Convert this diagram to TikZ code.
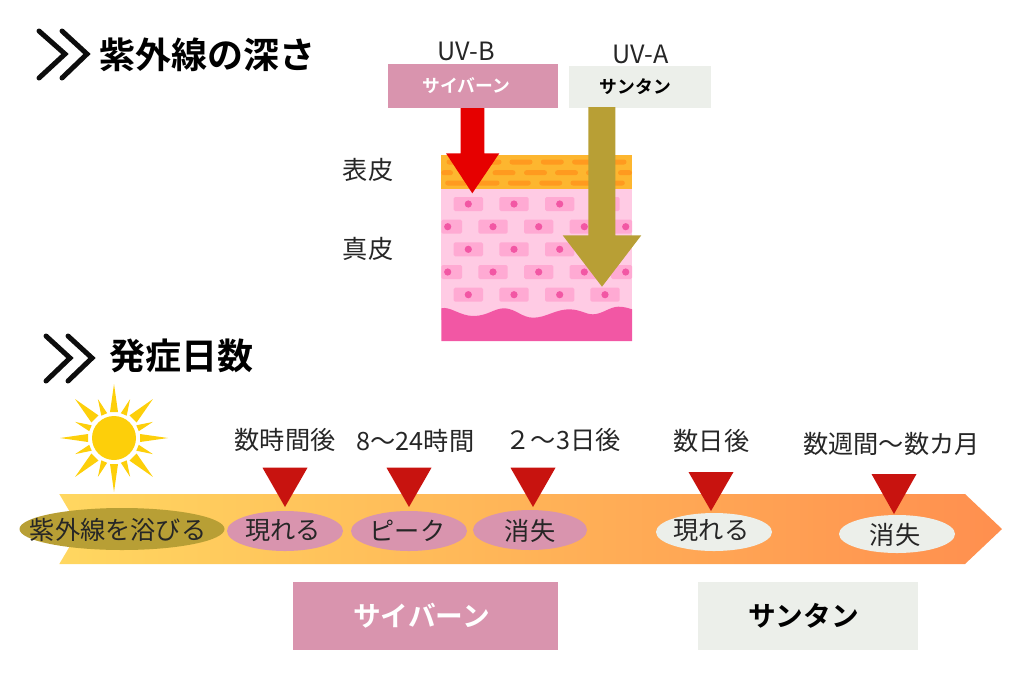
\documentclass[tikz,border=0pt]{standalone}
\usepackage{fontspec}
\setmainfont{Noto Sans CJK JP}[BoldFont={Noto Sans CJK JP Bold}]
\usetikzlibrary{shapes.geometric}
\definecolor{cPink}{HTML}{D994AE}
\definecolor{cPale}{HTML}{ECEFEA}
\definecolor{cOlive}{HTML}{B89F35}
\definecolor{cRed}{HTML}{E60000}
\definecolor{cMark}{HTML}{C8130F}
\definecolor{cSun}{HTML}{FDCF0A}
\definecolor{cOrange}{HTML}{FDB62F}
\definecolor{cDash}{HTML}{FF9A1F}
\definecolor{cSkin}{HTML}{FFCBE4}
\definecolor{cCell}{HTML}{FFAAD3}
\definecolor{cDeep}{HTML}{F257A4}
\definecolor{cBarL}{HTML}{FFD760}
\definecolor{cBarR}{HTML}{FF8F4F}
\newcommand{\fsz}[1]{\fontsize{#1}{#1}\selectfont}
\tikzset{
  x=1pt,y=-1pt,
  heading/.style={font=\fsz{36}\bfseries,inner sep=0,anchor=west},
  label/.style={font=\fsz{25.2},inner sep=0,text=black!85},
  chev/.style={line width=5pt,line cap=round,line join=miter,draw=black!95},
  oval/.style={ellipse,inner sep=0},
  smallbox/.style={inner sep=0,font=\fsz{17.8}\bfseries},
  bigbox/.style={inner sep=0,font=\fsz{27.7}\bfseries},
  cell/.style={fill=cCell,rounded corners=1.5pt},
  dashbar/.style={fill=cDash,rounded corners=2.5pt},
}
\newcommand{\tri}[3]{\fill[cMark] (#1-22.5,#2) -- (#1+22.5,#2) -- (#1,#3) -- cycle;}
\begin{document}
\begin{tikzpicture}
\useasboundingbox (0,0) rectangle (1024,683);
% headings
\draw[chev] (39,31) -- (65,54) -- (39,78);
\draw[chev] (62,31) -- (87,54) -- (62,78);
\node[heading] (h1) at (99,55) {紫外線の深さ};
\draw[chev] (46,336) -- (70,358) -- (46,381);
\draw[chev] (68,336) -- (92,358) -- (68,381);
\node[heading] (h2) at (109,356) {発症日数};
% skin
\fill[cOrange] (441.3,154.7) rectangle (632,189.3);
\foreach \c in {458,490,521,552.3,583.6,615}
  \fill[dashbar] (\c-11.5,159.5) rectangle (\c+11.5,164.5);
\foreach \a/\b in {441.3/453,492.5/515.5,524/547,555/578,586/609,618/632}
  \fill[dashbar] (\a,170.2) rectangle (\b,175.2);
\foreach \c in {456.7,488,519.3,550.7,582,613.3}
  \fill[dashbar] (\c-11.5,180.5) rectangle (\c+11.5,185.5);
\fill[cSkin] (441.3,189.3) rectangle (632,320);
\foreach \y in {204,249.3,294.7}
  \foreach \c in {468.3,514,559.7,605}{
    \fill[cell] (\c-14.7,\y-7) rectangle (\c+14.7,\y+7);
    \fill[cDeep] (\c,\y) circle (3.6);
  }
\foreach \y in {226.7,272}{
  \foreach \c in {493,538.7,584.3}{
    \fill[cell] (\c-14.7,\y-7) rectangle (\c+14.7,\y+7);
    \fill[cDeep] (\c,\y) circle (3.6);
  }
  \fill[cell] (441.3,\y-7) rectangle (462,\y+7);
  \fill[cDeep] (447.7,\y) circle (3.6);
  \fill[cell] (611,\y-7) rectangle (632,\y+7);
  \fill[cDeep] (625.7,\y) circle (3.6);
}
\fill[cDeep] (441.3,341) -- (441.3,308.3)
  .. controls (450,306) and (460,316) .. (473.3,316)
  .. controls (488,316) and (494,308) .. (505,308.3)
  .. controls (516,309) and (522,317.7) .. (533.3,317.7)
  .. controls (546,317.7) and (556,309) .. (570,309.3)
  .. controls (582,310) and (585,314.3) .. (593,314.3)
  .. controls (602,314.3) and (610,306.7) .. (618.3,306.7)
  .. controls (624,306.7) and (628,308) .. (632,309.3)
  -- (632,341) -- cycle;
% boxes
\node[smallbox,fill=cPink,text=white,minimum width=170pt,minimum height=44pt] (uvb) at (473,86) {};
\node[smallbox,text=white] (uvbt) at (466.5,86) {サイバーン};
\node[smallbox,fill=cPale,text=black,minimum width=142pt,minimum height=42pt] (uva) at (640,87) {};
\node[smallbox,text=black] (uvat) at (635.5,87) {サンタン};
\node[label] (tb) at (466.5,51) {UV-B};
\node[label] (ta) at (640.5,54) {UV-A};
\node[label] (l1) at (368,170) {表皮};
\node[label] (l2) at (368,249) {真皮};
% block arrows
\fill[cRed] (460.7,108) -- (484.3,108) -- (484.3,153.3) -- (499.3,153.3) -- (472.3,193.3) -- (446,153.3) -- (460.7,153.3) -- cycle;
\fill[cOlive] (588.3,107) -- (615.3,107) -- (615.3,235.3) -- (641.3,235.3) -- (602,286.7) -- (562.7,235.3) -- (588.3,235.3) -- cycle;
% sun
\fill[cSun] (114,438) circle (22);
\foreach \t in {0,90,180,270}
  \fill[cSun] ({114+26*cos(\t)-4*sin(\t)},{438+26*sin(\t)+4*cos(\t)}) -- ({114+54*cos(\t)},{438+54*sin(\t)}) -- ({114+26*cos(\t)+4*sin(\t)},{438+26*sin(\t)-4*cos(\t)}) -- cycle;
\foreach \t in {45,135,225,315}
  \fill[cSun] ({114+27*cos(\t)-5*sin(\t)},{438+27*sin(\t)+5*cos(\t)}) -- ({114+55*cos(\t)},{438+55*sin(\t)}) -- ({114+27*cos(\t)+5*sin(\t)},{438+27*sin(\t)-5*cos(\t)}) -- cycle;
\foreach \t in {22.5,67.5,112.5,157.5,202.5,247.5,292.5,337.5}
  \fill[cSun] ({114+25.5*cos(\t)-3.2*sin(\t)},{438+25.5*sin(\t)+3.2*cos(\t)}) -- ({114+42*cos(\t)},{438+42*sin(\t)}) -- ({114+25.5*cos(\t)+3.2*sin(\t)},{438+25.5*sin(\t)-3.2*cos(\t)}) -- cycle;
% timeline
\shade[left color=cBarL,right color=cBarR] (59.3,494) -- (965,494) -- (1002,529) -- (965,564) -- (59.3,564) -- (80,529) -- cycle;
\node[oval,fill=cOlive,minimum width=205pt,minimum height=42pt] (o1) at (122,529) {};
\node[label] (o1t) at (118,530) {紫外線を浴びる};
\node[oval,fill=cPink,minimum width=116pt,minimum height=40pt] (o2) at (285,531) {};
\node[label] (o2t) at (283,531) {現れる};
\node[oval,fill=cPink,minimum width=116pt,minimum height=40pt] (o3) at (409,531) {};
\node[label] (o3t) at (407.5,531) {ピーク};
\node[oval,fill=cPink,minimum width=114pt,minimum height=40pt] (o4) at (530,530) {};
\node[label] (o4t) at (530,531) {消失};
\node[oval,fill=cPale,minimum width=116pt,minimum height=38pt] (o5) at (714,532) {};
\node[label] (o5t) at (711.5,531) {現れる};
\node[oval,fill=cPale,minimum width=116pt,minimum height=38pt] (o6) at (897,534) {};
\node[label] (o6t) at (895,535) {消失};
\tri{285}{467.7}{507}
\tri{409}{467.7}{507}
\tri{533}{467.7}{507}
\tri{711}{472}{511}
\tri{894}{474}{514}
\node[label] (t1) at (285,440) {数時間後};
\node[label] (t2) at (415.5,441) {8〜24時間};
\node[label] (t3) at (563,440) {２〜3日後};
\node[label] (t4) at (711.5,441) {数日後};
\node[label] (t5) at (891.5,444) {数週間〜数カ月};
\node[bigbox,fill=cPink,text=white,minimum width=265pt,minimum height=68pt] (b1) at (425.5,616) {};
\node[bigbox,text=white] (b1t) at (421.5,616) {サイバーン};
\node[bigbox,fill=cPale,text=black,minimum width=220pt,minimum height=68pt] (b2) at (808,616) {};
\node[bigbox,text=black] (b2t) at (803.5,616) {サンタン};
\end{tikzpicture}
\end{document}
